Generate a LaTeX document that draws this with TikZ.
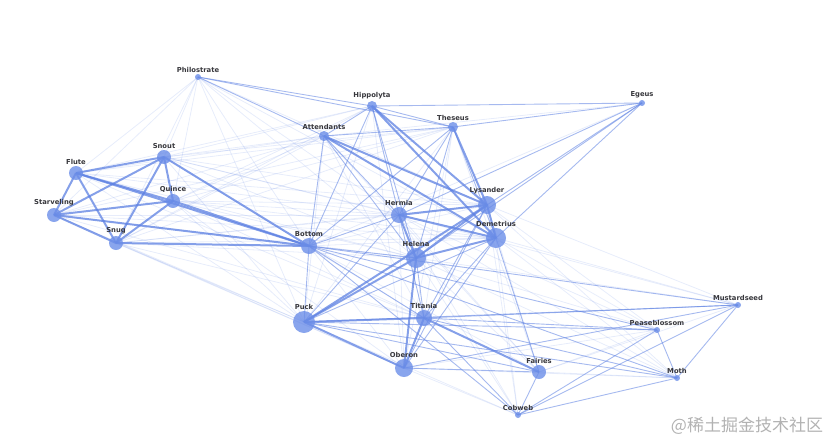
\documentclass[tikz,border=0pt]{standalone}
\usepackage{fontspec}
\usetikzlibrary{backgrounds}
\newfontfamily\netfont{DejaVu Sans}
\newfontfamily\cjkmark{Noto Sans CJK SC}
\definecolor{netblue}{RGB}{92,128,226}
\definecolor{nodeblue}{RGB}{108,142,232}
\definecolor{labelgray}{RGB}{55,55,60}
\tikzset{
  actor/.style={circle,fill=nodeblue,fill opacity=0.8,inner sep=0pt},
  lbl/.style={font=\netfont\bfseries\fontsize{6.8}{7}\selectfont,text=labelgray,inner sep=0.5pt},
  strong/.style={draw=netblue,line width=2pt,draw opacity=0.75},
  mid/.style={draw=netblue,line width=0.9pt,draw opacity=0.55},
  faint/.style={draw=netblue,line width=0.8pt,draw opacity=0.15}
}
\begin{document}
\begin{tikzpicture}[x=1pt,y=-1pt]
        \useasboundingbox (0,0) rectangle (832,442);

        % characters
        \foreach \n/\x/\y/\r in {Philostrate/198/77/3, Hippolyta/372/106/5,
            Egeus/642/103/3, Attendants/324/136/5, Theseus/453/127/5,
            Flute/76/173/7, Snout/164/157/7, Quince/173/201/7,
            Starveling/54/215/7, Snug/116/243/7, Bottom/309/246/8,
            Hermia/399/215/8, Lysander/487/205/9, Demetrius/496/238/10,
            Helena/416/258/10, Puck/304/322/11, Titania/424/318/8,
            Oberon/404/368/9, Fairies/539/372/7, Cobweb/518/415/3,
            Mustardseed/738/305/3, Peaseblossom/657/330/3, Moth/677/378/3}
          \node[actor,minimum size=2*\r,label={[lbl,label distance=1pt]above:\n}] (\n) at (\x,\y) {};

        \begin{pgfonlayer}{background}
          % weak links
          \foreach \a/\b in {Philostrate/Flute, Philostrate/Snout, Philostrate/Quince,
              Philostrate/Starveling, Philostrate/Snug, Philostrate/Bottom,
              Philostrate/Hermia, Philostrate/Lysander, Philostrate/Demetrius,
              Philostrate/Helena, Snout/Theseus, Snout/Hippolyta, Snout/Attendants,
              Flute/Theseus, Quince/Theseus, Quince/Hippolyta, Starveling/Attendants,
              Snug/Theseus, Flute/Hippolyta, Starveling/Theseus, Snug/Hippolyta,
              Flute/Attendants, Quince/Attendants, Snug/Attendants,
              Snout/Lysander, Quince/Demetrius, Flute/Helena, Snug/Helena,
              Snout/Hermia, Snout/Helena, Quince/Lysander, Quince/Helena,
              Flute/Hermia, Flute/Lysander, Starveling/Hermia, Starveling/Demetrius,
              Snug/Hermia, Snug/Demetrius, Snug/Lysander, Snout/Titania,
              Quince/Titania, Snug/Titania, Starveling/Titania, Flute/Puck,
              Starveling/Puck, Quince/Oberon, Snug/Oberon,
              Bottom/Lysander, Bottom/Demetrius, Snout/Puck, Quince/Puck, Snug/Puck,
              Flute/Titania, Starveling/Oberon, Bottom/Oberon, Bottom/Fairies,
              Hermia/Fairies, Helena/Fairies, Lysander/Fairies, Helena/Moth,
              Demetrius/Mustardseed, Demetrius/Peaseblossom, Lysander/Mustardseed,
              Hermia/Cobweb, Helena/Cobweb, Lysander/Cobweb, Oberon/Moth,
              Oberon/Peaseblossom, Oberon/Cobweb, Fairies/Mustardseed,
              Fairies/Peaseblossom, Fairies/Moth, Puck/Cobweb, Hermia/Oberon,
              Demetrius/Moth, Lysander/Peaseblossom, Helena/Mustardseed,
              Hermia/Peaseblossom, Hermia/Moth, Demetrius/Cobweb, Puck/Theseus,
              Titania/Theseus, Starveling/Helena, Quince/Hermia, Snout/Demetrius,
              Lysander/Moth, Helena/Peaseblossom, Hermia/Mustardseed,
              Attendants/Puck, Hippolyta/Puck, Attendants/Titania, Hippolyta/Oberon,
              Theseus/Oberon, Theseus/Fairies, Attendants/Fairies, Egeus/Bottom,
              Egeus/Attendants, Philostrate/Puck}
            \draw[faint] (\a.center) -- (\b.center);

          % scene links
          \foreach \a/\b in {Philostrate/Hippolyta, Philostrate/Theseus,
              Philostrate/Attendants, Hippolyta/Attendants, Attendants/Theseus,
              Hippolyta/Theseus, Hippolyta/Hermia, Hippolyta/Helena,
              Attendants/Hermia, Attendants/Helena, Attendants/Bottom,
              Theseus/Demetrius, Theseus/Hermia, Theseus/Helena, Theseus/Bottom,
              Egeus/Theseus, Egeus/Hippolyta, Egeus/Lysander, Egeus/Demetrius,
              Egeus/Hermia, Egeus/Helena, Hippolyta/Bottom, Bottom/Puck,
              Bottom/Titania, Bottom/Helena, Bottom/Hermia, Puck/Demetrius,
              Puck/Hermia, Puck/Fairies, Oberon/Fairies, Oberon/Demetrius,
              Oberon/Lysander, Titania/Hermia, Titania/Helena, Titania/Lysander,
              Demetrius/Fairies, Demetrius/Titania, Mustardseed/Titania,
              Mustardseed/Bottom, Mustardseed/Puck, Mustardseed/Moth,
              Mustardseed/Cobweb, Peaseblossom/Moth, Peaseblossom/Cobweb,
              Peaseblossom/Titania, Peaseblossom/Bottom, Moth/Cobweb, Moth/Titania,
              Moth/Bottom, Cobweb/Titania, Cobweb/Bottom, Cobweb/Fairies,
              Mustardseed/Oberon, Moth/Puck, Peaseblossom/Puck}
            \draw[mid] (\a.center) -- (\b.center);

          % close links
          \foreach \a/\b in {Flute/Snout, Flute/Quince, Flute/Starveling, Flute/Snug,
              Snout/Quince, Snout/Starveling, Snout/Snug, Snout/Bottom,
              Quince/Starveling, Quince/Snug, Quince/Bottom, Starveling/Snug,
              Starveling/Bottom, Snug/Bottom, Flute/Bottom, Hermia/Lysander,
              Hermia/Demetrius, Hermia/Helena, Lysander/Demetrius, Lysander/Helena,
              Demetrius/Helena, Theseus/Lysander, Attendants/Lysander,
              Attendants/Demetrius, Hippolyta/Demetrius, Hippolyta/Lysander,
              Puck/Titania, Puck/Oberon, Titania/Oberon, Titania/Fairies,
              Puck/Helena, Oberon/Helena, Puck/Lysander}
            \draw[strong] (\a.center) -- (\b.center);
        \end{pgfonlayer}

        \node[text=black!30,font=\cjkmark\fontsize{17}{18}\selectfont] (mark) at (747,426) {@稀土掘金技术社区};

      \end{tikzpicture}
\end{document}
